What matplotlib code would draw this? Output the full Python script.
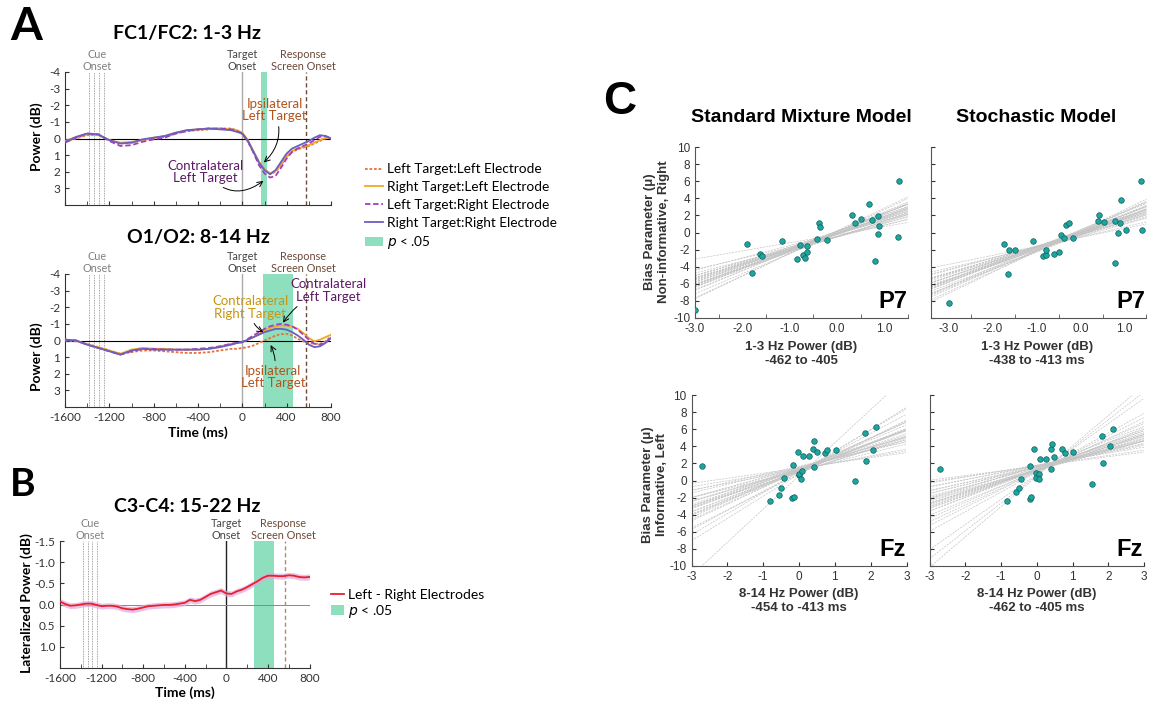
import numpy as np
import matplotlib
matplotlib.use("Agg")
import matplotlib.pyplot as plt
from matplotlib.ticker import MultipleLocator, FormatStrFormatter

plt.rcParams['font.family'] = ['Lato', 'DejaVu Sans']
plt.rcParams['axes.unicode_minus'] = False

# ---------------- panel A / B data (time in ms, power in dB) ----------------
t_a = [-1600, -1500, -1400, -1300, -1200, -1100, -1000, -900, -800, -700, -600, -500,
       -400, -300, -200, -100, -50, 0, 50, 100, 150, 200, 250, 300, 350, 400, 450,
       500, 550, 600, 650, 700, 750, 800]

fc_ll = [0.2, 0.0, -0.2, -0.2, 0.1, 0.3, 0.25, 0.1, 0.0, -0.1, -0.3, -0.45, -0.5, -0.55, -0.6,
         -0.6, -0.5, -0.25, 0.2, 0.8, 1.4, 1.85, 2.15, 2.0, 1.6, 1.1, 0.8, 0.65, 0.55, 0.45,
         0.3, 0.15, 0.0, -0.05]
fc_rl = [0.15, -0.05, -0.25, -0.2, 0.1, 0.25, 0.2, 0.1, -0.05, -0.15, -0.35, -0.5, -0.55, -0.6,
         -0.6, -0.55, -0.5, -0.35, 0.1, 0.75, 1.4, 1.85, 2.1, 1.95, 1.55, 1.05, 0.75, 0.6, 0.5,
         0.4, 0.25, 0.1, -0.05, 0.0]
fc_lr = [0.25, -0.05, -0.3, -0.25, 0.15, 0.45, 0.4, 0.2, 0.05, -0.05, -0.3, -0.45, -0.55, -0.6,
         -0.6, -0.55, -0.45, -0.3, 0.15, 0.85, 1.6, 2.1, 2.35, 2.25, 1.75, 1.2, 0.8, 0.6, 0.45,
         0.3, 0.1, -0.1, -0.15, 0.0]
fc_rr = [0.2, -0.1, -0.3, -0.25, 0.1, 0.3, 0.25, 0.05, -0.05, -0.15, -0.35, -0.5, -0.55, -0.6,
         -0.55, -0.5, -0.4, -0.3, 0.15, 0.8, 1.45, 1.9, 2.15, 1.9, 1.4, 0.9, 0.6, 0.45, 0.3,
         0.15, -0.05, -0.2, -0.15, 0.0]

oc_ll = [0.0, 0.05, 0.2, 0.4, 0.6, 0.8, 0.7, 0.6, 0.6, 0.65, 0.7, 0.75, 0.75, 0.7, 0.6, 0.5,
         0.5, 0.45, 0.4, 0.3, 0.15, 0.0, -0.15, -0.3, -0.38, -0.4, -0.3, -0.1, 0.05, 0.15,
         0.2, 0.2, 0.05, -0.25]
oc_rl = [-0.05, 0.0, 0.25, 0.4, 0.6, 0.8, 0.55, 0.45, 0.5, 0.5, 0.55, 0.55, 0.55, 0.5, 0.35,
         0.2, 0.15, 0.1, -0.05, -0.2, -0.4, -0.6, -0.75, -0.85, -0.9, -0.9, -0.85, -0.7,
         -0.45, -0.15, 0.05, -0.05, -0.2, -0.35]
oc_lr = [-0.05, 0.0, 0.25, 0.45, 0.65, 0.85, 0.65, 0.5, 0.5, 0.55, 0.55, 0.55, 0.5, 0.45,
         0.35, 0.2, 0.15, 0.1, -0.1, -0.3, -0.5, -0.7, -0.85, -0.95, -1.0, -0.95, -0.85,
         -0.65, -0.35, -0.05, 0.2, 0.25, 0.15, -0.2]
oc_rr = [-0.05, 0.0, 0.25, 0.45, 0.65, 0.85, 0.6, 0.5, 0.55, 0.55, 0.55, 0.55, 0.55, 0.5,
         0.4, 0.25, 0.15, 0.1, -0.05, -0.2, -0.35, -0.5, -0.6, -0.7, -0.7, -0.65, -0.5,
         -0.3, -0.05, 0.25, 0.4, 0.35, 0.15, -0.15]

t_b = [-1600, -1550, -1500, -1450, -1400, -1350, -1300, -1250, -1200, -1150, -1100, -1050,
       -1000, -950, -900, -850, -800, -750, -700, -650, -600, -550, -500, -450, -400, -350,
       -300, -250, -200, -150, -100, -50, 0, 50, 100, 150, 200, 250, 300, 350, 400, 450,
       500, 550, 600, 650, 700, 750, 800]
lat_b = [-0.07, -0.01, 0.03, 0.02, 0.0, -0.02, -0.02, 0.01, 0.04, 0.03, 0.03, 0.05, 0.09,
         0.11, 0.12, 0.10, 0.07, 0.04, 0.03, 0.02, 0.01, 0.01, 0.0, -0.02, -0.04, -0.11,
         -0.08, -0.11, -0.18, -0.25, -0.29, -0.33, -0.26, -0.25, -0.31, -0.35, -0.41, -0.48,
         -0.55, -0.63, -0.68, -0.68, -0.67, -0.67, -0.69, -0.68, -0.65, -0.64, -0.65]
se_b = 0.07

cue_times = [-1380, -1335, -1290, -1245]
resp_time_a = 570
resp_time_b = 565
sig_fc = (165, 225)
sig_oc = (190, 455)
sig_b = (270, 460)

series_names = ['Left Target:Left Electrode', 'Right Target:Left Electrode',
                'Left Target:Right Electrode', 'Right Target:Right Electrode']
series_colors = ['#e8703a', '#f5a623', '#a040c0', '#6a5fc1']
series_styles = [(0, (1.5, 1.0)), '-', (0, (3, 1.5)), '-']

# ---------------- panel C data ----------------
tl_x = [-3.0, -1.9, -1.79, -1.62, -1.58, -1.16, -0.85, -0.79, -0.71, -0.67, -0.64, -0.63, -0.42,
        -0.37, -0.35, -0.22, 0.31, 0.37, 0.51, 0.68, 0.74, 0.86, 0.87, 0.89, 0.80, 1.28, 1.32]
tl_y = [-9.1, -1.4, -4.7, -2.55, -2.75, -1.0, -3.1, -1.46, -2.6, -2.95, -2.25, -1.55, -0.75,
        1.1, 0.65, -0.84, 2.0, 1.15, 1.54, 3.37, 1.5, 1.9, -0.14, 0.72, -3.33, -0.53, 6.0]
tr_x = [-2.98, -1.74, -1.66, -1.62, -1.49, -1.07, -0.86, -0.79, -0.78, -0.61, -0.48, -0.44,
        -0.38, -0.32, -0.27, -0.17, 0.39, 0.43, 0.54, 0.92, 0.78, 0.90, 0.86, 1.04, 1.40, 1.37,
        0.78]
tr_y = [-8.3, -1.3, -4.9, -2.0, -2.1, -1.0, -2.8, -2.6, -2.1, -2.5, -2.3, -0.3, -0.7, 0.9, 1.1,
        -0.7, 1.3, 2.05, 1.2, 3.85, 1.35, 1.07, 0.0, 0.33, 0.25, 6.0, -3.57]
bl_x = [-2.70, -0.81, -0.56, -0.49, -0.43, -0.19, -0.13, -0.18, -0.04, -0.01, 0.0, 0.07, 0.06,
        0.10, 0.28, 0.40, 0.43, 0.51, 0.42, 0.72, 0.79, 1.02, 1.55, 1.85, 1.86, 2.06, 2.15]
bl_y = [1.64, -2.38, -1.72, -0.86, 0.31, -2.07, -1.95, 1.8, 3.36, 0.66, 0.8, 1.1, 0.2, 2.85,
        2.85, 3.63, 4.6, 3.28, 1.6, 3.16, 3.55, 3.55, -0.04, 5.55, 2.27, 3.6, 6.2]
br_x = [-2.72, -0.84, -0.58, -0.51, -0.45, -0.20, -0.16, -0.19, -0.07, -0.02, 0.06, -0.02,
        0.06, 0.09, 0.26, 0.39, 0.42, 0.49, 0.40, 0.71, 0.78, 1.0, 1.54, 1.82, 1.86, 2.05, 2.13]
br_y = [1.29, -2.38, -1.4, -0.82, 0.16, -2.19, -1.95, 1.72, 3.63, 0.82, 0.74, 0.35, 0.12, 2.46,
        2.54, 3.63, 4.3, 2.77, 1.33, 3.67, 3.2, 3.36, -0.39, 5.23, 1.99, 3.98, 5.98]

# bootstrap regression lines: slopes and intercepts
tl_slope = [1.92, 1.65, 2.18, 1.80, 2.05, 1.45, 2.35, 1.72, 1.98, 1.58, 2.22, 1.85, 1.30, 2.65,
            1.76, 2.10, 1.62, 1.94, 2.30, 1.52, 1.88, 2.02, 1.70, 2.15, 1.40, 1.83, 2.58, 1.68,
            1.96, 0.95]
tl_icpt = [-0.03, -0.44, 0.12, -0.18, -0.18, -0.07, -0.11, -0.16, 0.09, -0.52, -0.01, -0.06,
           -0.43, 0.20, -0.50, 0.14, -0.20, -0.22, 0.12, -0.44, 0.15, -0.14, -0.22, 0.11, -0.54,
           -0.52, 0.10, -0.03, -0.22, -0.25]
tr_slope = [1.85, 1.60, 2.10, 1.75, 1.95, 1.40, 2.25, 1.68, 1.90, 1.50, 2.15, 1.78, 1.20, 2.45,
            1.70, 2.00, 1.55, 1.88, 2.20, 1.45, 1.82, 1.97, 1.65, 2.05, 1.35, 1.80, 2.35, 1.62,
            1.92, 1.05]
tr_icpt = [-0.03, 0.0, -0.05, 0.03, -0.23, -0.2, 0.13, -0.41, 0.15, -0.2, -0.03, 0.14, -0.55,
           0.23, -0.05, -0.3, -0.08, -0.11, 0.3, -0.48, -0.09, 0.09, -0.28, 0.33, -0.28, -0.25,
           0.13, -0.09, 0.21, -0.58]
bl_slope = [1.50, 1.20, 1.85, 1.35, 1.65, 0.95, 2.10, 1.28, 1.55, 1.05, 1.95, 1.42, 0.60, 2.45,
            1.32, 1.75, 1.12, 1.60, 2.25, 0.80, 1.48, 1.70, 1.25, 1.90, 0.70, 1.38, 2.60, 1.18,
            1.58, 1.00, 3.88]
bl_icpt = [1.30, 1.17, 1.26, 1.26, 1.04, 1.67, 0.76, 1.34, 1.33, 1.13, 1.12, 1.23, 1.46, 1.02,
           0.97, 1.25, 1.40, 1.11, 1.00, 1.28, 1.46, 1.02, 1.35, 1.14, 1.37, 0.95, 0.76, 1.53,
           1.12, 1.55, 0.53]
br_slope = [1.30, 1.05, 1.60, 1.20, 1.45, 0.80, 1.85, 1.12, 1.38, 0.90, 1.70, 1.25, 0.55, 2.10,
            1.15, 1.52, 0.98, 1.40, 1.95, 0.70, 1.28, 1.48, 1.08, 1.65, 0.62, 1.22, 2.30, 1.02,
            1.35, 0.85, 3.55, 3.25, 2.95]
br_icpt = [1.25, 1.63, 1.20, 1.60, 1.13, 1.70, 1.13, 1.24, 1.46, 1.55, 1.05, 1.63, 1.68, 1.05,
           1.18, 1.29, 1.71, 1.20, 1.03, 1.80, 1.16, 1.36, 1.41, 1.38, 1.69, 1.24, 0.95, 1.54,
           1.23, 1.78, 0.5, 0.6, 0.75]

W, H = 1149, 702
fig = plt.figure(figsize=(W / 100, H / 100), dpi=100)


def rect(l, t, r, b):
    return [l / W, 1 - b / H, (r - l) / W, (b - t) / H]


def ftext(x, y, s, **kw):
    fig.text(x / W, 1 - y / H, s, **kw)


green = '#8edfbd'


def time_axes(ax, ylim, yticks, resp, sig, target_color, resp_color):
    ax.set_xlim(-1600, 800)
    ax.set_ylim(*ylim)
    ax.set_yticks(yticks)
    ax.xaxis.set_major_locator(MultipleLocator(400))
    ax.xaxis.set_minor_locator(MultipleLocator(200))
    ax.tick_params(which='both', direction='in', labelsize=8.5, colors='#333333', length=3)
    ax.tick_params(which='minor', length=3)
    for s in ['top', 'right']:
        ax.spines[s].set_visible(False)
    for s in ['left', 'bottom']:
        ax.spines[s].set_color('#333333')
        ax.spines[s].set_linewidth(0.8)
    ax.axvspan(sig[0], sig[1], color=green, lw=0, zorder=0, label='$\\it{p}$ < .05')
    for c in cue_times:
        ax.axvline(c, color='#888888', lw=0.6, ls=(0, (1, 1)), zorder=1)
    ax.axvline(0, color=target_color, lw=1.0, zorder=1)
    ax.axvline(resp, color=resp_color, lw=1.0, ls=(0, (3, 2)), zorder=1)
    y_top = ylim[1]
    ax.text(-1310, y_top, 'Cue\nOnset', ha='center', va='bottom', fontsize=7.8,
            color='#808080', linespacing=1.1)
    ax.text(0, y_top, 'Target\nOnset', ha='center', va='bottom', fontsize=7.8,
            color='#444444', linespacing=1.1)
    ax.text(resp - 20, y_top, 'Response\nScreen Onset', ha='center', va='bottom',
            fontsize=7.8, color='#6b4a3a', linespacing=1.1)


# ---------------- Panel A top ----------------
axA1 = fig.add_axes(rect(65, 72, 331, 205))
time_axes(axA1, (4, -4), [-4, -3, -2, -1, 0, 1, 2, 3], resp_time_a, sig_fc, '#aaaaaa', '#6b4a3a')
axA1.axhline(0, color='black', lw=0.8, zorder=1)
for vals, name, col, ls in zip([fc_ll, fc_rl, fc_lr, fc_rr], series_names, series_colors, series_styles):
    axA1.plot(t_a, vals, color=col, ls=ls, lw=1.3, label=name, zorder=3)
axA1.tick_params(labelbottom=False)
axA1.annotate('Ipsilateral\nLeft Target', xy=(185, 1.5), xytext=(290, -1.7), ha='center',
              va='center', fontsize=9.5, color='#b4541c', linespacing=1.05,
              arrowprops=dict(arrowstyle='->', color='black', lw=0.7,
                              connectionstyle='arc3,rad=-0.35', shrinkA=1, shrinkB=1))
axA1.annotate('Contralateral\nLeft Target', xy=(200, 2.5), xytext=(-330, 2.0), ha='center',
              va='center', fontsize=9.5, color='#5c1a66', linespacing=1.05,
              arrowprops=dict(arrowstyle='->', color='black', lw=0.7,
                              connectionstyle='arc3,rad=0.5', shrinkA=1, shrinkB=1))
handles, labels = axA1.get_legend_handles_labels()
order = [1, 2, 3, 4, 0]
fig.legend([handles[i] for i in order], [labels[i] for i in order], loc='upper left',
           bbox_to_anchor=(360 / W, 1 - 158 / H), frameon=False, fontsize=9.8,
           handlelength=1.3, handletextpad=0.25, labelspacing=0.42, borderaxespad=0)

# ---------------- Panel A bottom ----------------
axA2 = fig.add_axes(rect(65, 274, 331, 407))
time_axes(axA2, (4, -4), [-4, -3, -2, -1, 0, 1, 2, 3], resp_time_a, sig_oc, '#aaaaaa', '#6b4a3a')
axA2.axhline(0, color='black', lw=0.8, zorder=1)
for vals, col, ls in zip([oc_ll, oc_rl, oc_lr, oc_rr], series_colors, series_styles):
    axA2.plot(t_a, vals, color=col, ls=ls, lw=1.3, zorder=3)
axA2.annotate('Contralateral\nRight Target', xy=(200, -0.45), xytext=(70, -2.0), ha='center',
              va='center', fontsize=9.5, color='#c8960e', linespacing=1.05,
              arrowprops=dict(arrowstyle='->', color='black', lw=0.7,
                              connectionstyle='arc3,rad=0.3', shrinkA=1, shrinkB=1))
axA2.annotate('Contralateral\nLeft Target', xy=(360, -1.0), xytext=(780, -3.0), ha='center',
              va='center', fontsize=9.5, color='#5c1a66', linespacing=1.05,
              arrowprops=dict(arrowstyle='->', color='black', lw=0.7,
                              connectionstyle='arc3,rad=0.2', shrinkA=1, shrinkB=1))
axA2.annotate('Ipsilateral\nLeft Target', xy=(250, 0.2), xytext=(280, 2.2), ha='center',
              va='center', fontsize=9.5, color='#b4541c', linespacing=1.05,
              arrowprops=dict(arrowstyle='->', color='black', lw=0.7,
                              connectionstyle='arc3,rad=0.2', shrinkA=1, shrinkB=1))

# ---------------- Panel B ----------------
axB = fig.add_axes(rect(60, 541, 309.5, 668))
time_axes(axB, (1.5, -1.5), [-1.5, -1.0, -0.5, 0.0, 0.5, 1.0], resp_time_b, sig_b, '#222222', '#b08a70')
axB.yaxis.set_major_formatter(FormatStrFormatter('%.1f'))
axB.axhline(0, color='#888888', lw=0.7, zorder=1)
lat = np.array(lat_b)
axB.fill_between(t_b, lat - se_b, lat + se_b, color='#dfa8df', alpha=0.7, lw=0, zorder=2)
axB.plot(t_b, lat_b, color='#e8202a', lw=1.3, zorder=3, label='Left - Right Electrodes')
hb, lb = axB.get_legend_handles_labels()
fig.legend([hb[1], hb[0]], [lb[1], lb[0]], loc='upper left',
           bbox_to_anchor=(325 / W, 1 - 583 / H), frameon=False, fontsize=10,
           handlelength=1.0, handletextpad=0.25, labelspacing=0.15, borderaxespad=0)

# ---------------- A/B text ----------------
ftext(26, 27, 'A', fontsize=33, fontweight='bold', ha='center', va='center')
ftext(23, 484, 'B', fontsize=28, fontweight='bold', ha='center', va='center')
ftext(187, 33, 'FC1/FC2: 1-3 Hz', fontsize=14, fontweight='bold', ha='center', va='center')
ftext(198, 237, 'O1/O2: 8-14 Hz', fontsize=14, fontweight='bold', ha='center', va='center')
ftext(187, 507, 'C3-C4: 15-22 Hz', fontsize=14, fontweight='bold', ha='center', va='center')
ftext(37, 137, 'Power (dB)', fontsize=10, fontweight='bold', rotation=90, ha='center', va='center')
ftext(37, 357, 'Power (dB)', fontsize=10, fontweight='bold', rotation=90, ha='center', va='center')
ftext(27, 603, 'Lateralized Power (dB)', fontsize=10, fontweight='bold', rotation=90,
      ha='center', va='center')
ftext(198, 433, 'Time (ms)', fontsize=10, fontweight='bold', ha='center', va='center')
ftext(185, 693, 'Time (ms)', fontsize=10, fontweight='bold', ha='center', va='center')

# ---------------- Panel C ----------------
cfont = ['Liberation Sans', 'DejaVu Sans']


def scatter_axes(ax, xs, ys, slopes, icpts, xlim, xticks, fmt, half_ticks, ylabels, tag):
    ax.set_xlim(*xlim)
    ax.set_ylim(-10, 10)
    xl = np.array(xlim)
    for s, b in zip(slopes, icpts):
        ax.plot(xl, b + s * xl, color='#c4c4c4', lw=0.5, ls=(0, (3, 1.5)), zorder=1)
    ax.scatter(xs, ys, s=16, color='#1ea5a0', edgecolor='#0b5e5a', linewidth=0.5, zorder=3)
    ax.set_xticks(xticks)
    ax.set_xticklabels([fmt % v for v in xticks], family=cfont)
    ax.set_yticks(range(-10, 11, 2))
    if half_ticks:
        ax.set_xticks([v + 0.5 for v in xticks], minor=True)
        ax.tick_params(axis='x', which='major', length=0)
        ax.tick_params(axis='x', which='minor', length=3, direction='in', color='#555555')
    else:
        ax.tick_params(axis='x', which='major', length=3, direction='in')
    ax.tick_params(axis='y', length=3, direction='in')
    ax.tick_params(labelsize=8.5, colors='#333333')
    if not ylabels:
        ax.tick_params(axis='y', labelleft=False)
    else:
        for lbl in ax.get_yticklabels():
            lbl.set_family(cfont)
    for s in ['top', 'right']:
        ax.spines[s].set_visible(False)
    for s in ['left', 'bottom']:
        ax.spines[s].set_color('#555555')
        ax.spines[s].set_linewidth(0.8)
    ax.text(0.995, 0.03, tag, transform=ax.transAxes, ha='right', va='bottom',
            fontsize=17, fontweight='bold', family=cfont)


axC1 = fig.add_axes(rect(695, 147, 908, 318))
scatter_axes(axC1, tl_x, tl_y, tl_slope, tl_icpt, (-3.0, 1.5), [-3, -2, -1, 0, 1], '%.1f',
             True, True, 'P7')
axC2 = fig.add_axes(rect(931, 147, 1146.5, 318))
scatter_axes(axC2, tr_x, tr_y, tr_slope, tr_icpt, (-3.4, 1.5), [-3, -2, -1, 0, 1], '%.1f',
             True, False, 'P7')
axC3 = fig.add_axes(rect(691.5, 395, 906.5, 566))
scatter_axes(axC3, bl_x, bl_y, bl_slope, bl_icpt, (-3, 3), [-3, -2, -1, 0, 1, 2, 3], '%d',
             False, True, 'Fz')
axC4 = fig.add_axes(rect(929.5, 395, 1144, 566))
scatter_axes(axC4, br_x, br_y, br_slope, br_icpt, (-3, 3), [-3, -2, -1, 0, 1, 2, 3], '%d',
             False, False, 'Fz')

ftext(620, 102, 'C', fontsize=33, fontweight='bold', ha='center', va='center', family=cfont)
ftext(801, 117, 'Standard Mixture Model', fontsize=14, fontweight='bold', ha='center',
      va='center', family=cfont)
ftext(1036, 117, 'Stochastic Model', fontsize=14, fontweight='bold', ha='center',
      va='center', family=cfont)
ckw = dict(fontsize=9.5, fontweight='bold', ha='center', va='center', family=cfont,
           color='#333333', linespacing=1.25)
ftext(801, 354, '1-3 Hz Power (dB)\n-462 to -405', **ckw)
ftext(1037, 354, '1-3 Hz Power (dB)\n-438 to -413 ms', **ckw)
ftext(799, 601, '8-14 Hz Power (dB)\n-454 to -413 ms', **ckw)
ftext(1037, 601, '8-14 Hz Power (dB)\n-462 to -405 ms', **ckw)
ftext(657, 232, 'Bias Parameter (\u03bc)\nNon-informative, Right', rotation=90, **ckw)
ftext(655, 485, 'Bias Parameter (\u03bc)\nInformative, Left', rotation=90, **ckw)

fig.savefig('out.png', dpi=100)
